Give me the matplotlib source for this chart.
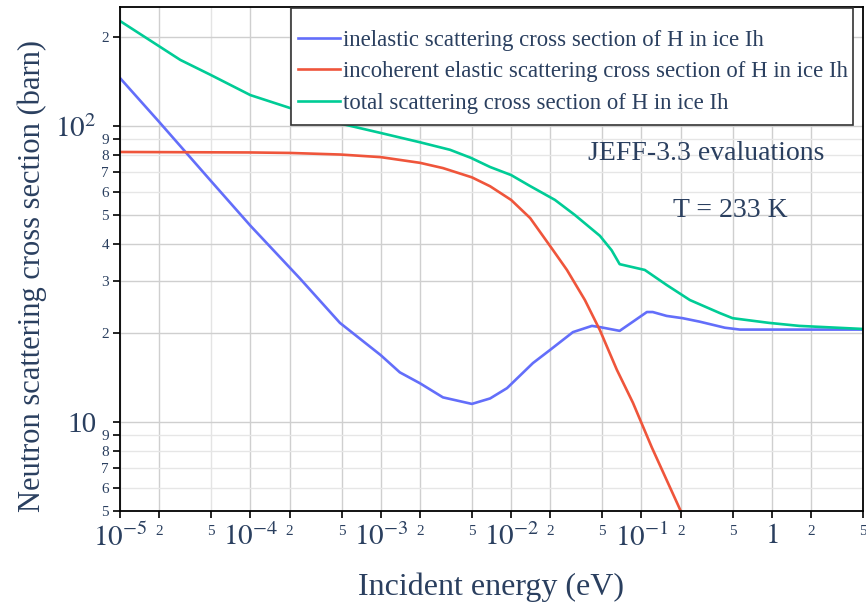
import matplotlib
matplotlib.use("Agg")
import matplotlib.pyplot as plt
from matplotlib.patches import Rectangle
from matplotlib.ticker import FixedLocator, FixedFormatter

plt.rcParams['font.family'] = ['Liberation Serif', 'DejaVu Serif']
plt.rcParams['mathtext.fontset'] = 'stix'

# datos (eV, barn)
energia_inel = [1e-5, 2e-5, 5e-5, 1e-4, 2.4e-4, 4.86e-4, 1e-3, 1.4e-3, 2e-3, 3e-3,
                5e-3, 6.9e-3, 9.3e-3, 0.0147, 0.0199, 0.0298, 0.0417, 0.048, 0.068, 0.086,
                0.11, 0.122, 0.156, 0.207, 0.28, 0.436, 0.569, 1.0, 2.0, 5.0]
sigma_inel = [145, 103, 65, 46, 30.5, 21.6, 16.8, 14.7, 13.5, 12.1,
              11.5, 12.0, 13.0, 15.8, 17.5, 20.1, 21.1, 20.9, 20.3, 21.8,
              23.5, 23.5, 22.8, 22.4, 21.8, 20.8, 20.5, 20.5, 20.5, 20.5]

energia_el = [1e-5, 1e-4, 2e-4, 4.9e-4, 1e-3, 2e-3, 3e-3, 5e-3, 6.9e-3, 1e-2,
              0.014, 0.0209, 0.0268, 0.0368, 0.048, 0.0647, 0.086, 0.12, 0.2, 0.3]
sigma_el = [81.6, 81.3, 81, 80, 78.4, 75, 72, 67, 62.5, 56.2,
            48.8, 38.1, 32.6, 25.8, 20.4, 15.0, 11.6, 8.2, 5.0, 3.3]

energia_tot = [1e-5, 2.9e-5, 4.9e-5, 1e-4, 2e-4, 4.8e-4, 1e-3, 2e-3, 3.4e-3, 4.9e-3,
               6.9e-3, 1e-2, 0.0139, 0.0217, 0.0308, 0.048, 0.059, 0.068, 0.106, 0.156,
               0.235, 0.4, 0.5, 0.95, 1.62, 5.0]
sigma_tot = [226, 167, 149, 127, 115, 102, 94.6, 88, 83, 78,
             72.6, 68.2, 62.7, 56.2, 50, 42.5, 38, 34.1, 32.6, 29.0,
             25.8, 23.3, 22.4, 21.6, 21.1, 20.6]

etiquetas = ['inelastic scattering cross section of H in ice Ih',
             'incoherent elastic scattering cross section of H in ice Ih',
             'total scattering cross section of H in ice Ih']

x_mayores = [1e-5, 1e-4, 1e-3, 1e-2, 1e-1, 1]
x_mayores_txt = ['$10^{-5}$', '$10^{-4}$', '$10^{-3}$', '$10^{-2}$', '$10^{-1}$', '$1$']
x_menores = [2e-5, 5e-5, 2e-4, 5e-4, 2e-3, 5e-3, 2e-2, 5e-2, 2e-1, 5e-1, 2, 5]
x_menores_txt = ['2', '5'] * 6

y_mayores = [10, 100]
y_mayores_txt = ['10', '$10^{2}$']
y_menores = [5, 6, 7, 8, 9, 20, 30, 40, 50, 60, 70, 80, 90, 200]
y_menores_txt = ['5', '6', '7', '8', '9', '2', '3', '4', '5', '6', '7', '8', '9', '2']

azul, rojo, verde = '#636efa', '#EF553B', '#00cc96'
texto = '#2a3f5f'

fig = plt.figure(figsize=(8.66, 6.10), dpi=100)
ax = fig.add_axes([0.1386, 0.1623, 0.8579, 0.8262])
ax.set_xscale('log')
ax.set_yscale('log')

ax.plot(energia_inel, sigma_inel, color=azul, lw=1.9, label=etiquetas[0])
ax.plot(energia_el, sigma_el, color=rojo, lw=1.9, label=etiquetas[1])
ax.plot(energia_tot, sigma_tot, color=verde, lw=1.9, label=etiquetas[2])

ax.set_xlim(1e-5, 5)
ax.set_ylim(5, 252)

ax.xaxis.set_major_locator(FixedLocator(x_mayores))
ax.xaxis.set_major_formatter(FixedFormatter(x_mayores_txt))
ax.xaxis.set_minor_locator(FixedLocator(x_menores))
ax.xaxis.set_minor_formatter(FixedFormatter(x_menores_txt))
ax.yaxis.set_major_locator(FixedLocator(y_mayores))
ax.yaxis.set_major_formatter(FixedFormatter(y_mayores_txt))
ax.yaxis.set_minor_locator(FixedLocator(y_menores))
ax.yaxis.set_minor_formatter(FixedFormatter(y_menores_txt))

ax.tick_params(which='both', direction='out', length=5, width=1.2, color='black', labelcolor=texto)
ax.tick_params(axis='x', which='major', labelsize=21, pad=4)
ax.tick_params(axis='x', which='minor', labelsize=11, pad=5)
ax.tick_params(axis='y', which='major', labelsize=21, pad=12)
ax.tick_params(axis='y', which='minor', labelsize=11, pad=3)

# rejilla
for v in x_mayores + x_menores:
    c = '#e4e4e4' if str(v).startswith('5') else '#cfcfcf'
    ax.axvline(v, color=c, lw=1, zorder=0)
for v in y_mayores + y_menores:
    c = '#cfcfcf' if v in (10, 100, 20, 200, 30, 40, 50) else '#e6e6e6'
    ax.axhline(v, color=c, lw=1, zorder=0)

for s in ax.spines.values():
    s.set_color('black')
    s.set_linewidth(1.3)

ax.set_xlabel('Incident energy (eV)', fontsize=23, color=texto)
ax.set_ylabel('Neutron scattering cross section (barn)', fontsize=22, color=texto)
ax.xaxis.set_label_coords(0.5, -0.122)
ax.yaxis.set_label_coords(-0.098, 0.466)

# caja de la leyenda (más margen vertical que horizontal, como en el original)
caja = Rectangle((0.230, 0.766), 0.756, 0.232, transform=ax.transAxes, facecolor='white',
                 edgecolor='#333333', lw=1.2, zorder=4)
ax.add_patch(caja)
leg = ax.legend(loc='upper left', bbox_to_anchor=(0.2396, 0.955), borderaxespad=0,
                fontsize=16.4, handlelength=1.85, handletextpad=0.12, labelspacing=0.46,
                frameon=False, borderpad=0)
leg.set_zorder(5)
for t in leg.get_texts():
    t.set_color(texto)

ax.text(0.789, 0.710, 'JEFF-3.3 evaluations', transform=ax.transAxes, fontsize=20,
        color=texto, ha='center', va='center')
ax.text(0.821, 0.597, 'T = 233 K', transform=ax.transAxes, fontsize=20,
        color=texto, ha='center', va='center')

fig.savefig('out.png', dpi=100)
